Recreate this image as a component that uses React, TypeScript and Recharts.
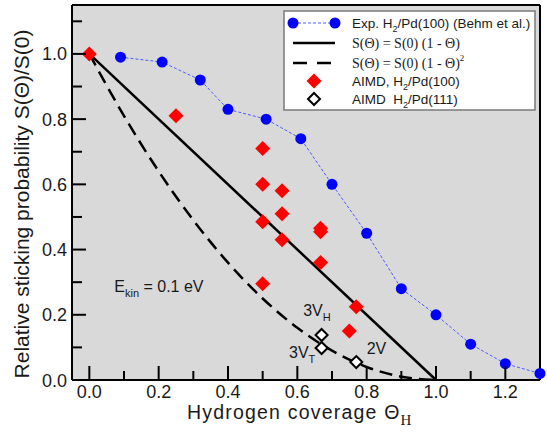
import React from 'react';
import {
  ComposedChart,
  Line,
  Scatter,
  XAxis,
  YAxis,
  CartesianGrid,
  Legend,
  ReferenceDot,
  Customized
} from 'recharts';

// Behm et al. experiment, H2/Pd(100)
const expCoverage = [0.09, 0.21, 0.32, 0.40, 0.51, 0.61, 0.70, 0.80, 0.90, 1.00, 1.10, 1.20, 1.30];
const expSticking = [0.99, 0.975, 0.92, 0.83, 0.80, 0.74, 0.60, 0.45, 0.28, 0.20, 0.11, 0.05, 0.02];

// S = S(0)(1 - theta)
const linCoverage = [0, 1];
const linSticking = [1, 0];

// S = S(0)(1 - theta)^2
const quadCoverage = [0, 0.1, 0.2, 0.3, 0.4, 0.5, 0.6, 0.7, 0.8, 0.9, 1.0];
const quadSticking = [1, 0.81, 0.64, 0.49, 0.36, 0.25, 0.16, 0.09, 0.04, 0.01, 0];

// AIMD H2/Pd(100)
const aimd100Coverage = [0, 0.25, 0.5, 0.5, 0.556, 0.556, 0.5, 0.556, 0.667, 0.667, 0.667, 0.5, 0.77, 0.75];
const aimd100Sticking = [1.0, 0.81, 0.71, 0.60, 0.58, 0.51, 0.485, 0.43, 0.465, 0.455, 0.36, 0.295, 0.225, 0.15];

// AIMD H2/Pd(111)
const aimd111Coverage = [0.67, 0.67, 0.77];
const aimd111Sticking = [0.138, 0.098, 0.055];

const xTicks = [0, 0.1, 0.2, 0.3, 0.4, 0.5, 0.6, 0.7, 0.8, 0.9, 1.0, 1.1, 1.2];
const yTicks = [0, 0.1, 0.2, 0.3, 0.4, 0.5, 0.6, 0.7, 0.8, 0.9, 1.0, 1.1];
const yTicksRight = [0.1, 0.2, 0.3, 0.4, 0.5, 0.6, 0.7, 0.8, 0.9, 1.0, 1.1];

const zip = (xs: number[], ys: number[]) => xs.map((x, i) => ({ x, y: ys[i] }));

const expData = zip(expCoverage, expSticking);
const linData = zip(linCoverage, linSticking);
const quadData = zip(quadCoverage, quadSticking);
const aimd100Data = zip(aimd100Coverage, aimd100Sticking);
const aimd111Data = zip(aimd111Coverage, aimd111Sticking);

const SANS = '"Liberation Sans", Arial, Helvetica, sans-serif';
const SERIF = '"Liberation Serif", "Times New Roman", serif';
const TXT = '#1a1a1a';

const isMajor = (v: number) => Math.round(v * 10) % 2 === 0;

const LeftTick = (props: any) => {
  const { x, y, payload } = props;
  const v = payload.value;
  const major = isMajor(v);
  return (
    <g>
      <line x1={x} x2={x + (major ? 14 : 10)} y1={y} y2={y} stroke="#000" strokeWidth={2} />
      {major && (
        <text x={x - 5} y={y + 6.5} textAnchor="end" fontSize={18} fontFamily={SANS} fill={TXT}>
          {v.toFixed(1)}
        </text>
      )}
    </g>
  );
};

const RightTick = (props: any) => {
  const { x, y } = props;
  return <line x1={x} x2={x - 10} y1={y} y2={y} stroke="#000" strokeWidth={2} />;
};

const BottomTick = (props: any) => {
  const { x, y, payload } = props;
  const v = payload.value;
  const major = isMajor(v);
  return (
    <g>
      <line x1={x} x2={x} y1={y} y2={y - (major ? 14 : 9)} stroke="#000" strokeWidth={2} />
      {major && (
        <text x={x} y={y + 18} textAnchor="middle" fontSize={18} fontFamily={SANS} fill={TXT}>
          {v.toFixed(1)}
        </text>
      )}
    </g>
  );
};

const diamondPath = (cx: number, cy: number, h: number) =>
  `M${cx},${cy - h}L${cx + h},${cy}L${cx},${cy + h}L${cx - h},${cy}Z`;

const RedDiamond = (props: any) => <path d={diamondPath(props.cx, props.cy, 7.5)} fill="#ff0000" />;
const OpenDiamond = (props: any) => (
  <path d={diamondPath(props.cx, props.cy, 6)} fill="#ffffff" stroke="#000" strokeWidth={2} />
);

const LegendBox = () => {
  const rows = [13, 33, 53, 71, 89];
  return (
    <svg width={253} height={101} style={{ display: 'block' }}>
      <rect x={1} y={1} width={251} height={99} fill="#fff" stroke="#7a7a7a" strokeWidth={1.5} />
      <line x1={10} x2={52} y1={rows[0]} y2={rows[0]} stroke="#4d5cff" strokeWidth={1} strokeDasharray="3 2" />
      <circle cx={10} cy={rows[0]} r={5.5} fill="#0000ff" />
      <circle cx={52} cy={rows[0]} r={5.5} fill="#0000ff" />
      <line x1={10} x2={52} y1={rows[1]} y2={rows[1]} stroke="#000" strokeWidth={2.5} />
      <line x1={10} x2={52} y1={rows[2]} y2={rows[2]} stroke="#000" strokeWidth={2.5} strokeDasharray="14 10" />
      <path d={diamondPath(31, rows[3], 7.5)} fill="#ff0000" />
      <path d={diamondPath(31, rows[4], 6)} fill="#fff" stroke="#000" strokeWidth={2} />
      <g fontSize={13.5} fontFamily={SANS} fill={TXT}>
        <text x={69} y={rows[0] + 5}>
          Exp. H<tspan fontSize={9} dy={4}>2</tspan>
          <tspan dy={-4}>/Pd(100) (Behm et al.)</tspan>
        </text>
        <text x={69} y={rows[1] + 5} fontFamily={SERIF} fontSize={14}>
          S(Θ) = S(0) (1 - Θ)
        </text>
        <text x={69} y={rows[2] + 5} fontFamily={SERIF} fontSize={14}>
          S(Θ) = S(0) (1 - Θ)<tspan fontSize={9} dy={-7}>2</tspan>
        </text>
        <text x={69} y={rows[3] + 5}>
          AIMD, H<tspan fontSize={9} dy={4}>2</tspan>
          <tspan dy={-4}>/Pd(100)</tspan>
        </text>
        <text x={69} y={rows[4] + 5}>
          {'AIMD\u00a0 H'}<tspan fontSize={9} dy={4}>2</tspan>
          <tspan dy={-4}>/Pd(111)</tspan>
        </text>
      </g>
    </svg>
  );
};

const note = (main: string, sub: string, rest: string, size = 16) => (props: any) => {
  const { x, y } = props.viewBox;
  return (
    <text x={x} y={y} fontSize={size} fontFamily={SANS} fill={TXT}>
      {main}
      {sub && (
        <tspan fontSize={11} dy={5}>
          {sub}
        </tspan>
      )}
      {rest && <tspan dy={sub ? -5 : 0}>{rest}</tspan>}
    </text>
  );
};

const Titles = () => (
  <g fontFamily={SANS} fill={TXT}>
    <text
      x={29}
      y={204}
      transform="rotate(-90 29 204)"
      textAnchor="middle"
      fontSize={21}
    >
      Relative sticking probability S(Θ)/S(0)
    </text>
    <text x={187} y={419} fontSize={19.5} letterSpacing={1.2}>
      Hydrogen coverage Θ
      <tspan fontFamily={SERIF} fontSize={15} dy={6} letterSpacing={0}>H</tspan>
    </text>
  </g>
);

export default function App() {
  return (
    <div style={{ position: 'absolute', left: 0, top: 0, background: '#fff' }}>
      <ComposedChart width={547} height={435} margin={{ top: 4, right: 6, bottom: 54, left: 71 }}>
        <CartesianGrid fill="#d9d9d9" stroke="none" horizontal={false} vertical={false} />
        <XAxis
          dataKey="x"
          type="number"
          domain={[-0.05, 1.3]}
          ticks={xTicks}
          interval={0}
          height={1}
          tickSize={0}
          tickMargin={0}
          tick={<BottomTick />}
          axisLine={{ stroke: '#000', strokeWidth: 2 }}
          tickLine={false}
        />
        <XAxis
          xAxisId="top"
          orientation="top"
          dataKey="x"
          type="number"
          domain={[-0.05, 1.3]}
          height={1}
          tick={false}
          tickLine={false}
          axisLine={{ stroke: '#000', strokeWidth: 2 }}
        />
        <YAxis
          type="number"
          domain={[0, 1.15]}
          ticks={yTicks}
          interval={0}
          width={1}
          tickSize={0}
          tickMargin={0}
          tick={<LeftTick />}
          axisLine={{ stroke: '#000', strokeWidth: 2 }}
          tickLine={false}
        />
        <YAxis
          yAxisId="right"
          orientation="right"
          type="number"
          domain={[0, 1.15]}
          ticks={yTicksRight}
          interval={0}
          width={1}
          tickSize={0}
          tickMargin={0}
          tick={<RightTick />}
          axisLine={{ stroke: '#000', strokeWidth: 2 }}
          tickLine={false}
        />
        <Line
          data={quadData}
          dataKey="y"
          type="monotone"
          stroke="#000"
          strokeWidth={2.5}
          strokeDasharray="13 7"
          dot={false}
          isAnimationActive={false}
        />
        <Line
          data={linData}
          dataKey="y"
          type="linear"
          stroke="#000"
          strokeWidth={2.5}
          dot={false}
          isAnimationActive={false}
        />
        <Line
          data={expData}
          dataKey="y"
          type="linear"
          stroke="#4d5cff"
          strokeWidth={1}
          strokeDasharray="3 2"
          dot={{ r: 5.5, fill: '#0000ff', stroke: 'none' }}
          isAnimationActive={false}
        />
        <Scatter data={aimd100Data} dataKey="y" shape={<RedDiamond />} isAnimationActive={false} />
        <Scatter data={aimd111Data} dataKey="y" shape={<OpenDiamond />} isAnimationActive={false} />
        <ReferenceDot x={0.072} y={0.271} r={0} stroke="none" fill="none" ifOverflow="visible"
          label={note('E', 'kin', ' = 0.1 eV')} />
        <ReferenceDot x={0.617} y={0.197} r={0} stroke="none" fill="none" ifOverflow="visible"
          label={note('3V', 'H', '')} />
        <ReferenceDot x={0.576} y={0.068} r={0} stroke="none" fill="none" ifOverflow="visible"
          label={note('3V', 'T', '')} />
        <ReferenceDot x={0.80} y={0.08} r={0} stroke="none" fill="none" ifOverflow="visible"
          label={note('2V', '', '')} />
        <Legend
          layout="vertical"
          align="center"
          verticalAlign="middle"
          wrapperStyle={{ position: 'absolute', left: 283, top: 10, width: 253, height: 101 }}
          content={<LegendBox />}
        />
        <Customized component={<Titles />} />
      </ComposedChart>
    </div>
  );
}
